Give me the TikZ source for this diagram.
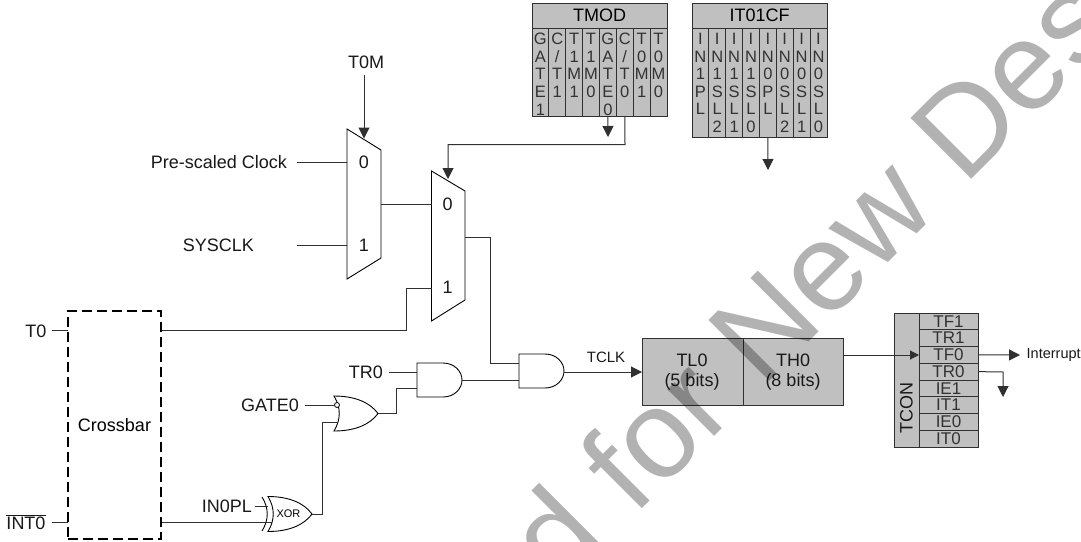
\documentclass[tikz,border=0pt]{standalone}
\usepackage{fontspec}
\setmainfont{Liberation Sans}
\usetikzlibrary{arrows.meta}
\definecolor{boxg}{HTML}{C0C0C0}
\definecolor{ln}{HTML}{303030}
\newcommand{\fa}{\fontsize{18}{20}\selectfont}
\newcommand{\fb}{\fontsize{16.5}{17.6}\selectfont}
\newcommand{\fc}{\fontsize{15}{16}\selectfont}
\newcommand{\fd}{\fontsize{17}{18}\selectfont}
\newcommand{\fe}{\fontsize{14.5}{16}\selectfont}
\tikzset{
  wire/.style={draw=ln,line width=1pt},
  arr/.style={wire,-{Triangle[length=11pt,width=11pt]}},
  arrs/.style={wire,-{Triangle[length=9pt,width=9pt]}},
  lab/.style={font=\fa,inner sep=0pt,text=black!90},
  regbox/.style={draw=ln,line width=1pt,fill=boxg,inner sep=0pt,outer sep=0pt,anchor=north west},
  hdr/.style={regbox,minimum width=135pt,minimum height=25pt,font=\fa},
  bitcell/.style={regbox,minimum width=16.875pt,anchor=north west},
  bittext/.style={font=\fb,align=center,anchor=north,inner sep=0pt,text=black!80},
  rowcell/.style={regbox,minimum width=59pt,minimum height=16.75pt,font=\fd,text=black!80},
  gatep/.style={draw=black,line width=.9pt,fill=white},
  andgate/.pic={\path[gatep] (0,-17) -- (26,-17) .. controls (37,-17) and (45,-9) .. (45,0) .. controls (45,9) and (37,17) .. (26,17) -- (0,17) -- cycle;},
  orgate/.pic={\path[gatep] (0,-17.5) .. controls (21,-17.5) and (36,-11) .. (44,0) .. controls (36,11) and (21,17.5) .. (0,17.5) .. controls (7,6) and (7,-6) .. (0,-17.5) -- cycle;},
  wmark/.style={rotate=45,inner sep=0pt,text=black,text opacity=.3,font=\fontsize{125}{125}\selectfont},
}
\begin{document}
\begin{tikzpicture}[x=1pt,y=-1pt]
\useasboundingbox (0,0) rectangle (1081,541);
\fill[white] (0,0) rectangle (1081,541);

% TMOD register
\node[hdr] (tmod) at (532,3) {TMOD};
\foreach \i [count=\n from 0] in {1,...,8}
  \node[bitcell,minimum height=88pt] (tm\i) at ({532+\n*16.875},28) {};
\foreach \i/\t [count=\n from 0] in {1/{G\\A\\T\\E\\1},2/{C\\/\\T\\1},3/{T\\1\\M\\1},4/{T\\1\\M\\0},5/{G\\A\\T\\E\\0},6/{C\\/\\T\\0},7/{T\\0\\M\\1},8/{T\\0\\M\\0}}
  \node[bittext] (tmt\i) at ({540.4+\n*16.875},33) {\t};

% IT01CF register
\node[hdr] (itcf) at (692,3) {IT01CF};
\foreach \i [count=\n from 0] in {1,...,8}
  \node[bitcell,minimum height=109pt] (ic\i) at ({692+\n*16.875},28) {};
\foreach \i/\t [count=\n from 0] in {1/{I\\N\\1\\P\\L},2/{I\\N\\1\\S\\L\\2},3/{I\\N\\1\\S\\L\\1},4/{I\\N\\1\\S\\L\\0},5/{I\\N\\0\\P\\L},6/{I\\N\\0\\S\\L\\2},7/{I\\N\\0\\S\\L\\1},8/{I\\N\\0\\S\\L\\0}}
  \node[bittext] (ict\i) at ({700.4+\n*16.875},33) {\t};

% free ends and bends
\coordinate (gatedown) at (608,137);
\coordinate (itdown) at (768,170);
\coordinate (ctbend) at (625,144.5);
\coordinate (ctbendb) at (448,144.5);
\coordinate (ctend) at (448,179);
\coordinate (t0mstart) at (364,75);
\coordinate (t0mend) at (364,138.5);

% multiplexers
\path[gatep] (347,129) -- (381,150) -- (381,258) -- (347,279) -- cycle;
\path[gatep] (431.5,171) -- (465,191) -- (465,300) -- (431.5,321) -- cycle;
\node[lab] (m1z) at (364,162) {0};
\node[lab] (m1o) at (364,245) {1};
\node[lab] (m2z) at (447.5,204) {0};
\node[lab] (m2o) at (447.5,287) {1};
\coordinate (m1in0) at (347,162);
\coordinate (m1in1) at (347,245);
\coordinate (m1out) at (381,204);
\coordinate (m2in0) at (431.5,204);
\coordinate (m2in1) at (431.5,288);
\coordinate (m2out) at (465,237.5);

% labels
\node[lab] (t0m) at (366,62.5) {T0M};
\node[lab,anchor=east] (pre) at (287,162) {Pre-scaled Clock};
\node[lab,anchor=east] (sys) at (254,245) {SYSCLK};
\node[lab] (t0) at (36,331) {T0};
\node[lab] (int0) at (26,522) {$\overline{\mbox{INT0}}$};
\node[lab,anchor=east] (tr0) at (383,372) {TR0};
\node[lab,anchor=east] (gate0) at (299,405) {GATE0};
\node[lab,anchor=east] (in0pl) at (252,506) {IN0PL};

% crossbar
\node[draw=black,line width=1.4pt,dash pattern=on 10pt off 5pt,minimum width=93pt,minimum height=228pt,inner sep=0pt,outer sep=0pt,font=\fa] (xbar) at (114.5,425) {Crossbar};
\coordinate (xt0i) at (68,330);
\coordinate (xinti) at (68,522);
\coordinate (xt0o) at (162,330);
\coordinate (xinto) at (162,522);
\coordinate (t0w) at (52,330);
\coordinate (intw) at (52,522);

% gates
\pic at (417,380) {andgate};
\pic at (519,371) {andgate};
\pic at (334,413.5) {orgate};
\pic at (268,514) {orgate};
\draw[black,line width=.9pt] (262,497) .. controls (269,508) and (269,520) .. (262,531);
\node[draw=black,line width=.8pt,fill=white,circle,inner sep=0pt,minimum size=5pt] (bubble) at (337,405) {};
\node[font=\fontsize{11}{12}\selectfont,inner sep=0pt] (xorlab) at (288.5,513.5) {XOR};
\coordinate (a1in0) at (417,372);
\coordinate (a1in1) at (417,388);
\coordinate (a1out) at (462,380);
\coordinate (a2in0) at (519,363);
\coordinate (a2in1) at (519,380);
\coordinate (a2out) at (564,372);
\coordinate (orin1) at (338,422);
\coordinate (orout) at (378,413.5);
\coordinate (xorin0) at (268,506);
\coordinate (xorin1) at (272,522);
\coordinate (xorout) at (312,514);
\coordinate (prew) at (297,162);
\coordinate (sysw) at (297,245);
\coordinate (trw) at (389,372);
\coordinate (gatew) at (305,405);
\coordinate (plw) at (255,506);

% timer registers
\node[regbox,minimum width=101pt,minimum height=67pt] (tl0) at (642,338) {};
\node[regbox,minimum width=100pt,minimum height=67pt] (th0) at (743,338) {};
\node[lab] (tl0a) at (692,360) {TL0};
\node[lab] (tl0b) at (692,382) {(5 bits)};
\node[lab] (th0a) at (793,360) {TH0};
\node[lab] (th0b) at (793,382) {(8 bits)};
\coordinate (tl0in) at (642,372);
\coordinate (th0out) at (843,355);
\node[lab,font=\fc] (tclk) at (606,357) {TCLK};

% TCON
\node[regbox,minimum width=25pt,minimum height=134pt] (tcon) at (894,313) {};
\node[lab,rotate=90] (tconlab) at (906.5,408) {TCON};
\foreach \i/\t [count=\n from 0] in {a/TF1,b/TR1,c/TF0,d/TR0,e/IE1,f/IT1,g/IE0,h/IT0}
  \node[rowcell] (r\i) at (919,{313+\n*16.75}) {\t};
\coordinate (rcin) at (919,355);
\coordinate (tfend) at (1020,355);
\coordinate (trbend) at (1003,372);
\coordinate (trend) at (1003,397);
\node[lab,anchor=west,font=\fe] (intr) at (1026.5,355) {Interrupt};

% connectors
\draw[arr] (tm5.south) -- (gatedown);
\draw[arr] (tm6.south) -- (ctbend) -- (ctbendb) -- (ctend);
\draw[arr] (ic5.south) -- (itdown);
\draw[arr] (t0mstart) -- (t0mend);
\draw[wire] (prew) -- (m1in0);
\draw[wire] (sysw) -- (m1in1);
\draw[wire] (m1out) -- (m2in0);
\draw[wire] (xt0o) -| (406,288) -- (m2in1);
\draw[wire] (m2out) -| (490,363) -- (a2in0);
\draw[wire] (t0w) -- (xt0i);
\draw[wire] (intw) -- (xinti);
\draw[wire] (trw) -- (a1in0);
\draw[wire] (gatew) -- (bubble.west);
\draw[wire] (plw) -- (xorin0);
\draw[wire] (xinto) -- (xorin1);
\draw[wire] (xorout) -- (322,514) -- (322,422) -- (orin1);
\draw[wire] (orout) -- (396,413.5) -- (396,388) -- (a1in1);
\draw[wire] (a1out) -- (a2in1);
\draw[arr] (a2out) -- (tl0in);
\draw[arrs] (th0out) -- (rcin);
\draw[arr] (rc.east) -- (tfend);
\draw[arr] (rd.east) -- (trbend) -- (trend);

% watermark
\begin{scope}
\clip (0,0) rectangle (1081,541);
\coordinate (wm) at (964,187);
\node[wmark,anchor=base east] (wma) at (wm) {Not Recommended for New\hspace*{.278em}};
\node[wmark,anchor=base west] (wmb) at (wm) {Designs};
\end{scope}
\end{tikzpicture}
\end{document}
